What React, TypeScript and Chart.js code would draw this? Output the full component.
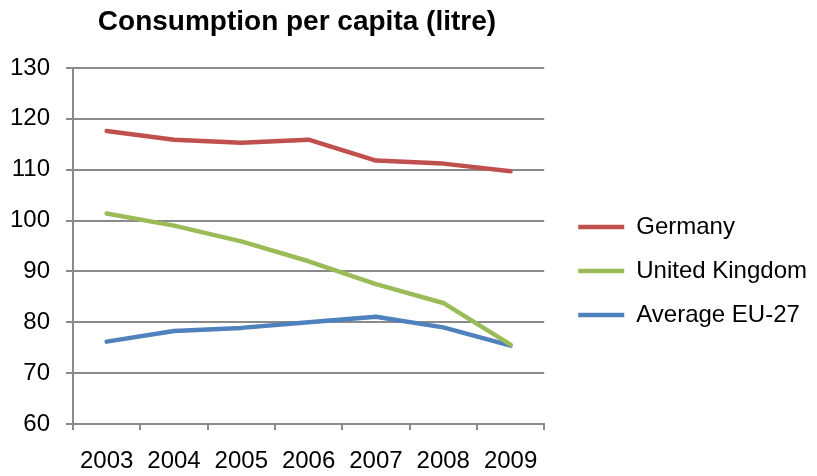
import React, { useEffect, useRef } from "react";
import { Chart, registerables } from "chart.js";

Chart.register(...registerables);

const years = ["2003", "2004", "2005", "2006", "2007", "2008", "2009"];
const germany = [117.6, 115.9, 115.3, 115.9, 111.8, 111.2, 109.7];
const unitedKingdom = [101.4, 99.0, 95.9, 92.0, 87.5, 83.8, 75.6];
const averageEU27 = [76.2, 78.3, 78.9, 80.0, 81.1, 79.0, 75.4];
const seriesNames = ["Germany", "United Kingdom", "Average EU-27"];
const yMin = 60;
const yMax = 130;
const yStep = 10;

const GRID = "#8a8a8a";

export default function App() {
  const ref = useRef<HTMLCanvasElement | null>(null);

  useEffect(() => {
    if (!ref.current) return;
    Chart.defaults.font.family = "'Liberation Sans', Arial, sans-serif";
    const mk = (label: string, data: number[], color: string) => ({
      label,
      data,
      borderColor: color,
      backgroundColor: color,
      borderWidth: 4.5,
      borderCapStyle: "round" as const,
      borderJoinStyle: "round" as const,
      pointRadius: 0,
      pointHoverRadius: 0,
      tension: 0,
      fill: false,
    });
    const chart = new Chart(ref.current, {
      type: "line",
      data: {
        labels: years,
        datasets: [
          mk(seriesNames[0], germany, "#C0504D"),
          mk(seriesNames[1], unitedKingdom, "#9BBB59"),
          mk(seriesNames[2], averageEU27, "#4F81BD"),
        ],
      },
      options: {
        responsive: false,
        animation: false,
        devicePixelRatio: 1,
        layout: { padding: { left: 0, right: 0, top: 0, bottom: 0 } },
        plugins: {
          title: {
            display: true,
            text: "Consumption per capita (litre)   ",
            fullSize: false,
            color: "#000",
            font: { size: 28, weight: "bold" },
            padding: { top: 5, bottom: 29.4 },
          },
          legend: {
            position: "right",
            align: "center",
            maxWidth: 320,
            title: {
              display: true,
              text: " ",
              font: { size: 12 },
              padding: { top: 0, bottom: 51.6 },
            },
            labels: {
              usePointStyle: true,
              pointStyle: "line",
              pointStyleWidth: 46,
              padding: 20,
              color: "#000",
              font: { size: 24 },
            },
          },
          tooltip: { enabled: false },
        },
        scales: {
          x: {
            type: "category",
            offset: true,
            grid: {
              offset: true,
              drawOnChartArea: false,
              drawTicks: true,
              tickLength: 6,
              color: GRID,
              lineWidth: 2,
            },
            border: { color: GRID, width: 2 },
            ticks: {
              color: "#000",
              font: { size: 24 },
              padding: 17,
              maxRotation: 0,
              autoSkip: false,
            },
            afterFit: (s: any) => {
              s.height = 52;
            },
          },
          y: {
            min: yMin,
            max: yMax,
            grid: {
              color: GRID,
              lineWidth: 2,
              tickLength: 7,
            },
            border: { color: GRID, width: 2 },
            ticks: {
              stepSize: yStep,
              color: "#000",
              font: { size: 24 },
              padding: 16,
            },
            afterFit: (s: any) => {
              s.width = 73;
            },
          },
          gap: {
            position: "right",
            display: true,
            grid: { display: false },
            border: { display: false },
            ticks: { display: false },
            afterFit: (s: any) => {
              s.width = 14;
            },
          },
        },
      },
    });
    return () => chart.destroy();
  }, []);

  return (
    <div style={{ position: "absolute", left: 0, top: 0, width: 817, height: 476, background: "#fff" }}>
      <canvas ref={ref} width={817} height={476} style={{ display: "block" }} />
    </div>
  );
}
